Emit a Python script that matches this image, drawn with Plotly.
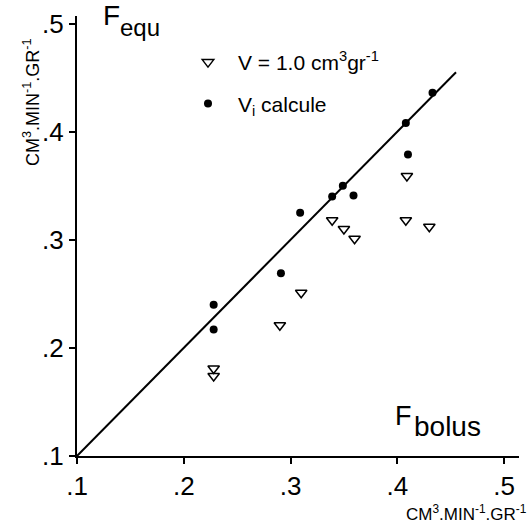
import plotly.graph_objects as go

# Data
f_bolus_vi = [0.228, 0.228, 0.291, 0.309, 0.339, 0.349, 0.359, 0.408, 0.410, 0.433]
f_equ_vi = [0.240, 0.217, 0.269, 0.325, 0.340, 0.350, 0.341, 0.408, 0.379, 0.436]

f_bolus_v1 = [0.228, 0.228, 0.290, 0.310, 0.339, 0.350, 0.360, 0.409, 0.408, 0.430]
f_equ_v1 = [0.181, 0.174, 0.221, 0.251, 0.318, 0.310, 0.301, 0.359, 0.318, 0.312]

identity_x = [0.1, 0.455]
identity_y = [0.1, 0.455]

tick_vals = [0.1, 0.2, 0.3, 0.4, 0.5]
tick_text = [".1", ".2", ".3", ".4", ".5"]

FONT = "Liberation Sans"

fig = go.Figure()
fig.add_trace(go.Scatter(
    x=identity_x, y=identity_y, mode="lines",
    line=dict(color="black", width=2), showlegend=False, hoverinfo="skip"))
fig.add_trace(go.Scatter(
    x=f_bolus_v1, y=f_equ_v1, mode="markers",
    name="V = 1.0 cm<sup>3</sup>gr<sup>-1</sup>", legendgroup="a",
    marker=dict(symbol="triangle-down-open", size=10, color="black",
                line=dict(width=1.5, color="black"))))
fig.add_trace(go.Scatter(
    x=f_bolus_vi, y=f_equ_vi, mode="markers",
    name="V<sub>i</sub> calcule", legendgroup="b",
    marker=dict(symbol="circle", size=8, color="black")))

axis_common = dict(
    showline=True, linecolor="black", linewidth=2, mirror=False,
    ticks="outside", ticklen=6, tickwidth=2, tickcolor="black",
    showgrid=False, zeroline=False,
    tickvals=tick_vals, ticktext=tick_text,
    tickfont=dict(family=FONT, size=26, color="black"),
)

fig.update_layout(
    width=529, height=527,
    margin=dict(l=77, r=10, t=16, b=71),
    paper_bgcolor="white", plot_bgcolor="white",
    font=dict(family=FONT, color="black"),
    xaxis=dict(range=[0.1, 0.514], ticklabelstandoff=0, **axis_common),
    yaxis=dict(range=[0.1, 0.507], **axis_common),
    legend=dict(x=0.2285, y=0.941, xanchor="left", yanchor="top",
                bgcolor="rgba(0,0,0,0)", itemwidth=50, tracegroupgap=11,
                font=dict(family=FONT, size=21, color="black")),
)


def px(x):
    return (x - 77) / 442


def py(y):
    return (527 - 71 - y) / 440


fig.add_annotation(text="F", x=px(101), y=py(-2), xref="paper", yref="paper",
                   xanchor="left", yanchor="top", showarrow=False,
                   font=dict(family=FONT, size=28))
fig.add_annotation(text="equ", x=px(118), y=py(12), xref="paper", yref="paper",
                   xanchor="left", yanchor="top", showarrow=False,
                   font=dict(family=FONT, size=24))
fig.add_annotation(text="F", x=px(393), y=py(399), xref="paper", yref="paper",
                   xanchor="left", yanchor="top", showarrow=False,
                   font=dict(family=FONT, size=27))
fig.add_annotation(text="bolus", x=px(412), y=py(409), xref="paper", yref="paper",
                   xanchor="left", yanchor="top", showarrow=False,
                   font=dict(family=FONT, size=28))
fig.add_annotation(text="CM<sup>3</sup>.MIN<sup>-1</sup>.GR<sup>-1</sup>",
                   x=px(31), y=py(103), xref="paper", yref="paper",
                   xanchor="center", yanchor="middle", textangle=-90,
                   showarrow=False, font=dict(family=FONT, size=18))
fig.add_annotation(text="CM<sup>3</sup>.MIN<sup>-1</sup>.GR<sup>-1</sup>",
                   x=px(529), y=py(526), xref="paper", yref="paper",
                   xanchor="right", yanchor="bottom",
                   showarrow=False, font=dict(family=FONT, size=17))

fig.write_html("out.html", config={"displayModeBar": False},
               post_script="document.body.style.margin='0';")
